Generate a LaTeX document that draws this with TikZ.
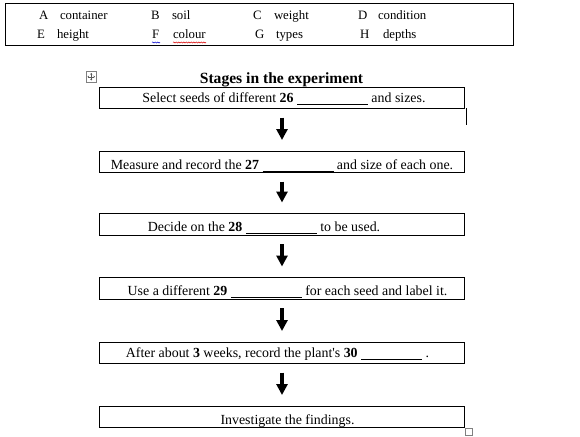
\documentclass[tikz,border=0pt]{standalone}
\usepackage{fontspec}
\setmainfont{Liberation Serif}[Ligatures=TeXOff]
\usetikzlibrary{arrows.meta,decorations.pathmorphing}
\newcommand{\blankline}[1][71pt]{\rule[-2.6pt]{#1}{0.8pt}}
\begin{document}
\begin{tikzpicture}[x=1pt,y=-1pt,
  every node/.style={font=\fontsize{12.8}{15}\selectfont, inner sep=0pt, outer sep=0pt},
  opt/.style={anchor=base west},
  stepbox/.style={draw, line width=0.9pt, minimum width=365pt, minimum height=21.5pt, anchor=north west},
  steptext/.style={anchor=base, font=\fontsize{13.9}{16}\selectfont},
  flow/.style={line width=3.2pt, -{Triangle[width=11pt,length=11pt]}, shorten <=9pt, shorten >=11pt}]
\useasboundingbox (0,0) rectangle (580,436);
% options box
\draw[line width=0.9pt] (5,3) rectangle (513,45);
\node[opt] (la) at (39,19.5) {A};  \node[opt] (ta) at (60,19.5) {container};
\node[opt] (lb) at (151,19.5) {B}; \node[opt] (tb) at (172,19.5) {soil};
\node[opt] (lc) at (253,19.5) {C}; \node[opt] (tc) at (274,19.5) {weight};
\node[opt] (ld) at (358,19.5) {D}; \node[opt] (td) at (378,19.5) {condition};
\node[opt] (le) at (37,39) {E};  \node[opt] (te) at (57,39) {height};
\node[opt] (lf) at (152,39) {F}; \node[opt] (tf) at (173,39) {colour};
\node[opt] (lg) at (255,39) {G}; \node[opt] (tg) at (276,39) {types};
\node[opt] (lh) at (360,39) {H}; \node[opt] (th) at (383,39) {depths};
\draw[blue!80!black, line width=0.5pt, decorate, decoration={snake, amplitude=0.6pt, segment length=2.5pt}] (152,42.5) -- (160,42.5);
\draw[red!85!black, line width=0.5pt, decorate, decoration={snake, amplitude=0.6pt, segment length=2.5pt}] (173,42.5) -- (206,42.5);
% title
\node[anchor=base, font=\fontsize{15.6}{18}\selectfont\bfseries] (title) at (281.5,83) {Stages in the experiment};
% table move handle
\draw[gray, line width=0.5pt] (86,71.5) rectangle (96.5,82);
\draw[gray!70!black, line width=0.5pt, {Stealth[length=1.5pt,width=2pt]}-{Stealth[length=1.5pt,width=2pt]}] (87.5,76.75) -- (95,76.75);
\draw[gray!70!black, line width=0.5pt, {Stealth[length=1.5pt,width=2pt]}-{Stealth[length=1.5pt,width=2pt]}] (91.25,73) -- (91.25,80.5);
% step boxes
\node[stepbox] (s1) at (99,87) {};
\node[stepbox] (s2) at (99,151) {};
\node[stepbox] (s3) at (99,213.5) {};
\node[stepbox] (s4) at (99,277.5) {};
\node[stepbox] (s5) at (99,342) {};
\node[stepbox] (s6) at (99,406) {};
% step texts
\node[steptext] (t1) at (284,102.5) {Select seeds of different \textbf{26} \blankline{} and sizes.};
\node[steptext] (t2) at (282,169.3) {Measure and record the \textbf{27} \blankline{} and size of each one.};
\node[steptext] (t3) at (264,231) {Decide on the \textbf{28} \blankline{} to be used.};
\node[steptext] (t4) at (287.5,295) {Use a different \textbf{29} \blankline{} for each seed and label it.};
\node[steptext] (t5) at (277.5,357.3) {After about \textbf{3} weeks, record the plant's \textbf{30} \blankline[61pt] .};
\node[steptext] (t6) at (287.5,424) {Investigate the findings.};
% arrows
\foreach \i/\j in {1/2,2/3,3/4,4/5,5/6}{
  \draw[flow] ([xshift=0.5pt]s\i.south) -- ([xshift=0.5pt]s\j.north);
}
% word artifacts
\draw[line width=0.7pt] (466.5,108) -- (466.5,125);
\draw[gray, line width=0.5pt] (465.5,428.5) rectangle (472,435);
\end{tikzpicture}
\end{document}
